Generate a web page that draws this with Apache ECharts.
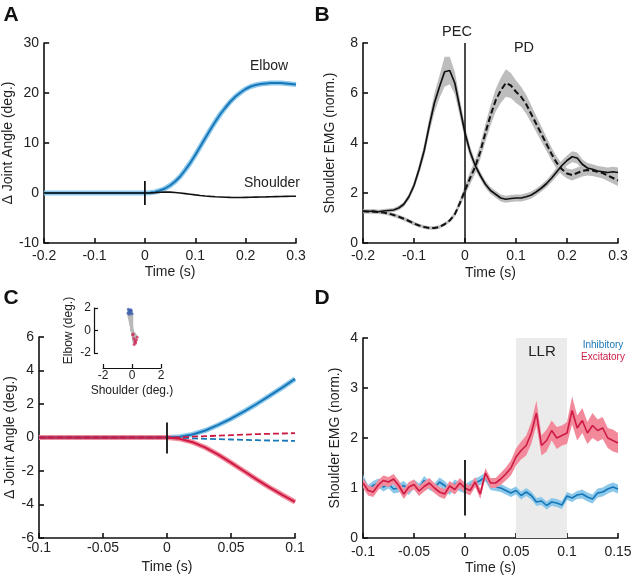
<!DOCTYPE html>
<html><head><meta charset="utf-8">
<script src="https://cdn.jsdelivr.net/npm/echarts@6/dist/echarts.min.js"></script>
<style>html,body{margin:0;padding:0;background:#fff}#c{width:640px;height:579px}</style>
</head><body><div id="c"></div>
<script>
// ---------- DATA ----------
// Panel A: joint angles (deg), t = -0.2..0.3 step 0.01
const elbowA = [0,0,0,0,0,0,0,0,0,0,0,0,0,0,0,0,0,0,0,0,0,
  0.05,0.2,0.5,0.9,1.5,2.3,3.3,4.6,6.0,7.6,9.3,11.0,12.7,14.3,15.8,17.1,18.3,19.3,20.1,20.8,21.3,21.6,21.8,21.9,22.0,22.0,22.0,21.9,21.8,21.7];
const shoulderA = [0,0,0,0,0,0,0,0,0,0,0,0,0,0,0,0,0,0,0,0,0,
  0.02,0.08,0.15,0.2,0.18,0.1,0.0,-0.12,-0.25,-0.38,-0.5,-0.6,-0.68,-0.75,-0.8,-0.85,-0.88,-0.9,-0.9,-0.88,-0.86,-0.83,-0.8,-0.78,-0.75,-0.72,-0.7,-0.68,-0.66,-0.64];
const onsetA = [-2.4, 2.4];

// Panel B: shoulder EMG (norm.), t = -0.2..0.3 step 0.01
const pecB = [1.27,1.26,1.28,1.25,1.28,1.30,1.32,1.40,1.55,1.85,2.30,2.95,3.70,4.70,5.60,6.25,6.85,6.90,6.40,5.40,
  4.40,3.65,3.10,2.70,2.35,2.10,1.95,1.80,1.75,1.78,1.80,1.80,1.85,1.92,2.05,2.20,2.38,2.60,2.85,3.10,3.30,3.45,3.40,3.15,3.00,2.95,2.88,2.85,2.82,2.85,2.82];
const pecSE = [0.08,0.08,0.08,0.08,0.08,0.08,0.08,0.09,0.10,0.12,0.15,0.20,0.25,0.30,0.38,0.45,0.60,0.55,0.45,0.35,
  0.28,0.22,0.18,0.15,0.14,0.14,0.14,0.14,0.14,0.14,0.14,0.14,0.14,0.14,0.14,0.14,0.15,0.16,0.18,0.20,0.20,0.22,0.22,0.20,0.20,0.20,0.20,0.20,0.20,0.20,0.20];
const pdB = [1.27,1.26,1.25,1.24,1.22,1.18,1.12,1.05,0.97,0.88,0.78,0.70,0.64,0.60,0.60,0.64,0.75,0.90,1.15,1.60,
  2.10,2.60,3.05,3.65,4.40,5.10,5.70,6.10,6.40,6.30,6.05,5.85,5.55,5.15,4.75,4.35,3.95,3.55,3.20,2.95,2.78,2.72,2.80,2.88,2.92,2.90,2.85,2.80,2.70,2.60,2.50];
const pdSE = [0.08,0.08,0.08,0.08,0.08,0.08,0.08,0.08,0.08,0.08,0.08,0.07,0.07,0.07,0.07,0.07,0.07,0.07,0.10,0.15,
  0.20,0.25,0.28,0.30,0.35,0.40,0.45,0.50,0.55,0.50,0.45,0.40,0.38,0.35,0.32,0.30,0.28,0.26,0.25,0.22,0.20,0.22,0.22,0.22,0.22,0.22,0.22,0.22,0.22,0.22,0.22];
const onsetB = [0, 8];

// Panel C: joint angles (deg), t = -0.1..0.1 step 0.01
const elbowInhC  = [0,0,0,0,0,0,0,0,0,0,0, 0.05,0.18,0.42,0.75,1.12,1.55,2.0,2.48,2.98,3.5];
const elbowExcC  = [0,0,0,0,0,0,0,0,0,0,0, -0.08,-0.28,-0.6,-1.02,-1.5,-2.0,-2.5,-2.98,-3.42,-3.85];
const shoulderExcC = [0,0,0,0,0,0,0,0,0,0,0, 0.02,0.05,0.08,0.11,0.14,0.17,0.2,0.22,0.24,0.26];
const shoulderInhC = [0,0,0,0,0,0,0,0,0,0,0, -0.02,-0.05,-0.08,-0.1,-0.12,-0.14,-0.16,-0.18,-0.19,-0.2];
const onsetC = [-0.95, 0.9];

// Inset: trajectory end points (deg)
const inhEndShoulder = [-0.25,-0.2,-0.15,-0.1,-0.05,0.0,-0.18,-0.08,-0.28];
const inhEndElbow    = [1.9,1.7,1.8,1.6,1.75,1.5,1.45,1.85,1.55];
const excEndShoulder = [0.05,0.12,0.2,0.25,0.3,0.15,0.35,0.22,0.08];
const excEndElbow    = [-0.4,-0.7,-0.9,-1.1,-0.85,-1.25,-0.6,-1.0,-0.3];

// Panel D: shoulder EMG (norm.), t = -0.1..0.15 step 0.005
const excD = [1.10,0.95,0.92,1.06,1.15,1.12,1.18,1.05,0.88,1.02,1.07,0.94,1.03,1.10,1.00,0.92,0.88,1.04,0.97,1.10,1.00,
  0.95,1.12,0.88,1.30,1.10,1.10,1.18,1.28,1.40,1.62,1.75,1.85,2.10,2.50,1.85,1.95,2.15,2.00,2.05,2.10,2.55,2.20,2.35,2.10,2.25,2.15,2.20,2.00,1.95,1.90];
const excSE = [0.10,0.10,0.10,0.10,0.10,0.10,0.10,0.10,0.10,0.10,0.10,0.10,0.10,0.10,0.10,0.10,0.10,0.10,0.10,0.10,0.10,
  0.10,0.10,0.10,0.10,0.10,0.10,0.12,0.13,0.15,0.17,0.18,0.20,0.22,0.25,0.20,0.22,0.20,0.22,0.20,0.22,0.28,0.25,0.25,0.22,0.25,0.22,0.22,0.20,0.22,0.20];
const inhD = [1.18,0.97,1.05,1.10,1.02,1.08,0.98,1.00,1.05,0.95,1.08,1.00,1.15,1.05,1.00,1.12,1.05,0.95,1.08,1.02,0.98,
  1.05,1.10,1.15,1.22,1.05,1.02,1.00,0.95,0.90,0.95,0.85,0.92,0.85,0.72,0.74,0.65,0.72,0.70,0.66,0.84,0.80,0.86,0.88,0.82,0.78,0.90,0.92,0.98,1.02,0.98];
const inhSE = [0.09,0.09,0.09,0.09,0.09,0.09,0.09,0.09,0.09,0.09,0.09,0.09,0.09,0.09,0.09,0.09,0.09,0.09,0.09,0.09,0.09,
  0.09,0.09,0.09,0.09,0.09,0.08,0.08,0.08,0.08,0.08,0.08,0.08,0.08,0.08,0.08,0.08,0.08,0.08,0.08,0.08,0.08,0.08,0.09,0.09,0.09,0.09,0.09,0.09,0.09,0.09];
const onsetD = [0.45, 1.56];
const llrWindow = [0.05, 0.1];
const llrHeight = [0, 4];

// sample times
function times(start, step, n){ const a=[]; for(let i=0;i<n;i++) a.push(+(start+i*step).toFixed(4)); return a; }
const tAB = times(-0.2, 0.01, 51);
const tC = times(-0.1, 0.01, 21);
const tD = times(-0.1, 0.005, 51);

// ---------- STYLE ----------
const FONT = '"Liberation Sans", Arial, sans-serif';
const BLUE = '#1877b8', BLUE_L = '#8cc8ea';
const RED = '#cc1a44', RED_L = '#f28a9b';
const INK = '#111';

function xAx(g, min, max, interval, margin, nameGap, extra){
  return Object.assign({type:'value', gridIndex:g, min, max, interval,
    name:'Time (s)', nameLocation:'middle', nameGap,
    nameTextStyle:{fontFamily:FONT, fontSize:14, color:'#222'},
    axisLine:{show:true, onZero:false, lineStyle:{color:INK, width:1.6}},
    axisTick:{show:true, inside:true, length:5, lineStyle:{color:INK, width:1.6}},
    axisLabel:{fontFamily:FONT, fontSize:14, color:'#222', margin},
    splitLine:{show:false}}, extra||{});
}
function yAx(g, min, max, interval, name, nameGap, extra){
  return Object.assign({type:'value', gridIndex:g, min, max, interval,
    name, nameLocation:'middle', nameGap,
    nameTextStyle:{fontFamily:FONT, fontSize:14, color:'#222'},
    axisLine:{show:true, onZero:false, lineStyle:{color:INK, width:1.6}},
    axisTick:{show:true, inside:true, length:5, lineStyle:{color:INK, width:1.6}},
    axisLabel:{fontFamily:FONT, fontSize:14, color:'#222', margin:5},
    splitLine:{show:false}}, extra||{});
}
function line(g, xs, ys, color, width, dash, z){
  return {type:'line', xAxisIndex:g, yAxisIndex:g, data: xs.map((x,i)=>[x, ys[i]]),
    symbol:'none', showSymbol:false, silent:true, animation:false, z: z||3,
    lineStyle:{color, width, type: dash||'solid'}};
}
// shaded error band drawn as one polygon through the axis scales
function band(g, xs, mid, se, color, z){
  return {type:'custom', xAxisIndex:g, yAxisIndex:g, silent:true, animation:false, z: z||2,
    data: xs.map((x,i)=>[x, mid[i]-se[i], mid[i]+se[i]]),
    encode:{x:0, y:[1,2]},
    renderItem: function(params, api){
      if (params.dataIndex !== 0) return null;
      const pts = [];
      for (let i=0;i<xs.length;i++) pts.push(api.coord([xs[i], mid[i]+se[i]]));
      for (let i=xs.length-1;i>=0;i--) pts.push(api.coord([xs[i], mid[i]-se[i]]));
      return {type:'polygon', shape:{points:pts}, style:{fill:color}};
    }};
}
function vmark(g, lohi, width){
  return {type:'line', xAxisIndex:g, yAxisIndex:g, data: lohi.map(v=>[0, v]), symbol:'none', silent:true, animation:false, z:6,
    lineStyle:{color:INK, width: width||1.8}};
}
function txt(x, y, text, size, color, weight){
  return {type:'text', x, y, silent:true, z:100, style:{text, x:0, y:0, align:'center', verticalAlign:'middle',
    font: (weight||'normal') + ' ' + size + 'px ' + FONT, fill: color||'#222'}};
}

const series = [];
// Panel A
series.push(line(0, tAB, elbowA, BLUE_L, 5, null, 2));
series.push(line(0, tAB, elbowA, BLUE, 2, null, 3));
series.push(line(0, tAB, shoulderA, INK, 1.6, null, 4));
series.push(vmark(0, onsetA));
// Panel B
series.push(band(1, tAB, pecB, pecSE, '#bdbdbd', 2));
series.push(band(1, tAB, pdB, pdSE, '#bdbdbd', 2));
series.push(line(1, tAB, pecB, INK, 1.7, null, 4));
series.push(line(1, tAB, pdB, INK, 2, [6,3], 4));
series.push(vmark(1, onsetB, 1.5));
// Panel C
series.push(line(2, tC, shoulderInhC, BLUE, 1.8, [6,3], 3));
series.push(line(2, tC, elbowInhC, BLUE_L, 5, null, 2));
series.push(line(2, tC, elbowInhC, BLUE, 2, null, 3));
series.push(line(2, tC, shoulderExcC, RED, 1.8, [6,3], 4));
series.push(line(2, tC, elbowExcC, RED_L, 5, null, 2));
series.push(line(2, tC, elbowExcC, RED, 2, null, 4));
series.push(vmark(2, onsetC));
// Inset
inhEndShoulder.forEach((s,i)=>series.push(line(4, [0, s], [0, inhEndElbow[i]], '#b9b9b9', 2.5, null, 5)));
excEndShoulder.forEach((s,i)=>series.push(line(4, [0, s], [0, excEndElbow[i]], '#b9b9b9', 2.5, null, 5)));
series.push({type:'scatter', xAxisIndex:4, yAxisIndex:4, symbolSize:3, silent:true, animation:false, z:6,
  data: inhEndShoulder.map((s,i)=>[s, inhEndElbow[i]]), itemStyle:{color:'#3f5fb0'}});
series.push({type:'scatter', xAxisIndex:4, yAxisIndex:4, symbolSize:3, silent:true, animation:false, z:6,
  data: excEndShoulder.map((s,i)=>[s, excEndElbow[i]]), itemStyle:{color:'#d0305a'}});
// Panel D
series.push({type:'line', xAxisIndex:3, yAxisIndex:3, data:[], symbol:'none', silent:true, z:1,
  markArea:{silent:true, itemStyle:{color:'#ebebeb'},
    data:[[{xAxis:llrWindow[0], yAxis:llrHeight[0]},{xAxis:llrWindow[1], yAxis:llrHeight[1]}]]}});
series.push(band(3, tD, inhD, inhSE, BLUE_L, 2));
series.push(line(3, tD, inhD, BLUE, 1.6, null, 3));
series.push(band(3, tD, excD, excSE, RED_L, 4));
series.push(line(3, tD, excD, RED, 1.6, null, 5));
series.push(vmark(3, onsetD));

const option = {
  backgroundColor:'#fff',
  animation:false,
  grid:[
    {left:40, top:43, width:256, height:200},
    {left:363, top:43, width:255, height:200},
    {left:39, top:337, width:256, height:201},
    {left:363, top:338, width:255, height:200},
    {left:103, top:308, width:58, height:45}
  ],
  xAxis:[
    xAx(0, -0.2, 0.3, 0.1, 6, 22),
    xAx(1, -0.2, 0.3, 0.1, 6, 23),
    xAx(2, -0.1, 0.1, 0.05, 3, 22),
    xAx(3, -0.1, 0.15, 0.05, 7, 23),
    xAx(4, -2, 2, 2, 2, 17, {name:'Shoulder (deg.)', offset:15,
      nameTextStyle:{fontFamily:FONT, fontSize:12, color:'#222'},
      axisLabel:{fontFamily:FONT, fontSize:12, color:'#222', margin:2},
      axisLine:{show:true, onZero:false, lineStyle:{color:INK, width:1.2}},
      axisTick:{show:true, inside:true, length:4, lineStyle:{color:INK, width:1.2}}})
  ],
  yAxis:[
    yAx(0, -10, 30, 10, 'Δ Joint Angle (deg.)', 25),
    yAx(1, 0, 8, 2, 'Shoulder EMG (norm.)', 26),
    yAx(2, -6, 6, 2, 'Δ Joint Angle (deg.)', 22),
    yAx(3, 0, 4, 1, 'Shoulder EMG (norm.)', 21),
    yAx(4, -2, 2, 2, 'Elbow (deg.)', 19, {offset:9,
      nameTextStyle:{fontFamily:FONT, fontSize:12, color:'#222'},
      axisLabel:{fontFamily:FONT, fontSize:12, color:'#222', margin:3},
      axisLine:{show:true, onZero:false, lineStyle:{color:INK, width:1.2}},
      axisTick:{show:true, inside:true, length:4, lineStyle:{color:INK, width:1.2}}})
  ],
  graphic:[
    txt(11, 15, 'A', 21, '#111', 'bold'),
    txt(322, 15, 'B', 21, '#111', 'bold'),
    txt(11, 298, 'C', 21, '#111', 'bold'),
    txt(322, 298, 'D', 21, '#111', 'bold'),
    txt(269, 66, 'Elbow', 14),
    txt(272, 183, 'Shoulder', 14),
    txt(457, 32, 'PEC', 14.5),
    txt(524, 48, 'PD', 14.5),
    txt(542, 352, 'LLR', 15),
    txt(603, 345, 'Inhibitory', 10, BLUE),
    txt(603, 357, 'Excitatory', 10, RED)
  ],
  series
};
const chart = echarts.init(document.getElementById('c'), null, {renderer:'canvas'});
chart.setOption(option);
</script></body></html>
